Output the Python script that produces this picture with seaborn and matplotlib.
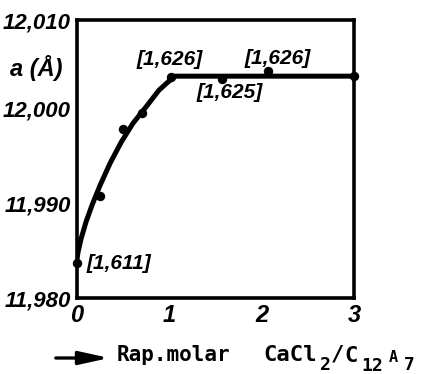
import matplotlib
matplotlib.use("Agg")
import matplotlib.pyplot as plt
from matplotlib.patches import FancyArrowPatch
import seaborn as sns
import pandas as pd

# Molar ratio CaCl2 / C12A7 and measured lattice parameter a (Å)
ratio = [0.0, 0.25, 0.5, 0.71, 1.02, 1.57, 2.07, 3.0]
lattice_a = [11.9837, 11.9907, 11.9978, 11.9995, 12.0033, 12.0031, 12.0039, 12.0034]

# Hand-drawn trend curve through the measurements
curve_ratio = [0.0, 0.016, 0.049, 0.103, 0.168, 0.254, 0.362, 0.481, 0.611,
               0.751, 0.892, 1.0, 1.065, 3.0]
curve_a = [11.98369, 11.98480, 11.98623, 11.98802, 11.98979, 11.99186, 11.99418,
           11.99639, 11.99842, 12.00013, 12.00191, 12.00286, 12.00338, 12.00338]

# Refractive-index annotations beside selected points
note_text = ["[1,611]", "[1,626]", "[1,625]", "[1,626]"]
note_x = [0.11, 0.65, 1.30, 1.82]
note_y = [11.9836, 12.0051, 12.0017, 12.0052]

x_ticks = [0, 1, 2, 3]
x_tick_labels = ["0", "1", "2", "3"]
y_ticks = [11.980, 11.990, 12.000, 12.0093]
y_tick_labels = ["11,980", "11,990", "12,000", "12,010"]

sns.set_theme(style="white")
plt.rcParams["font.family"] = ["Liberation Sans", "DejaVu Sans"]
plt.rcParams["mathtext.default"] = "regular"

W, H = 434, 374
fig = plt.figure(figsize=(W / 100, H / 100), dpi=100)
ax = fig.add_axes([76.5 / W, 1 - 298 / H, (354 - 76.5) / W, (298 - 20) / H])

curve = pd.DataFrame({"ratio": curve_ratio, "a": curve_a})
points = pd.DataFrame({"ratio": ratio, "a": lattice_a})

sns.lineplot(data=curve, x="ratio", y="a", ax=ax, color="black", lw=3.6,
             sort=False, solid_capstyle="round", solid_joinstyle="round")
sns.scatterplot(data=points, x="ratio", y="a", ax=ax, color="black", s=46,
                edgecolor="black", linewidth=0, zorder=5, clip_on=False)

ax.set_xlim(0, 3)
ax.set_ylim(11.980, 12.0093)
ax.set_xlabel("")
ax.set_ylabel("")

label_font = dict(family=["Liberation Sans", "DejaVu Sans"],
                  weight="bold", style="italic")

ax.set_xticks(x_ticks)
ax.set_xticklabels(x_tick_labels, fontsize=17, **label_font)
ax.set_yticks(y_ticks)
ax.set_yticklabels(y_tick_labels, fontsize=16, **label_font)
ax.tick_params(axis="both", direction="in", length=5, width=2, color="black",
               labelcolor="black")
ax.tick_params(axis="x", pad=4)
ax.tick_params(axis="y", pad=4)
for tick in (ax.xaxis.get_major_ticks()[0], ax.xaxis.get_major_ticks()[-1],
             ax.yaxis.get_major_ticks()[0], ax.yaxis.get_major_ticks()[-1]):
    tick.tick1line.set_visible(False)

for side in ["left", "right", "top", "bottom"]:
    ax.spines[side].set_visible(True)
    ax.spines[side].set_color("black")
    ax.spines[side].set_linewidth(2.6)

for t, x, y in zip(note_text, note_x, note_y):
    ax.text(x, y, t, fontsize=15, ha="left", va="center", color="black",
            **label_font)

# Lattice parameter title beside the vertical axis
fig.text(10 / W, 1 - 68 / H, "a (Å)", fontsize=17, ha="left", va="center",
         color="black", **label_font)

# Horizontal axis caption, typed in a monospaced face
mono = dict(family="DejaVu Sans Mono", weight="bold", color="black",
            ha="left", va="center")
caption = [
    ("Rap.molar", 117, 355, 15),
    ("CaCl", 263, 355, 16),
    ("2", 320, 365, 13),
    ("/", 331, 355, 16),
    ("C", 344, 356, 16),
    ("12", 361, 366, 13),
    ("A", 389, 358, 11),
    ("7", 404, 365, 13),
]
for txt, px, py, size in caption:
    fig.text(px / W, 1 - py / H, txt, fontsize=size, **mono)

fig.add_artist(FancyArrowPatch(
    (53 / W, 1 - 358 / H), (112 / W, 1 - 358 / H),
    transform=fig.transFigure, arrowstyle="-|>,head_length=10,head_width=2.2",
    mutation_scale=1.8, lw=2.4, color="black"))

fig.savefig("out.png", dpi=100, facecolor="white")
